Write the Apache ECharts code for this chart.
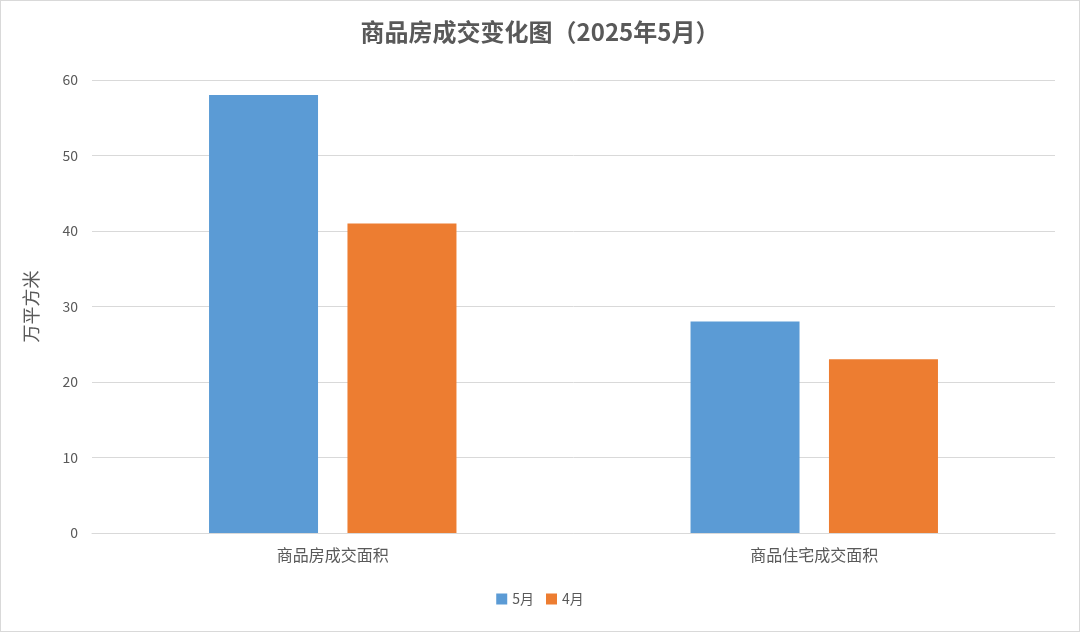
<!DOCTYPE html>
<html>
<head>
<meta charset="utf-8">
<script src="https://cdn.jsdelivr.net/npm/echarts@6/dist/echarts.min.js"></script>
<style>
  html, body { margin: 0; padding: 0; }
  #chart { width: 1078px; height: 630px; border: 1px solid #d9d9d9; }
</style>
</head>
<body>
<div id="chart"></div>
<script>
var categories = ['商品房成交面积', '商品住宅成交面积'];
var may = [58, 28];
var april = [41, 23];
var font = '"Noto Sans CJK SC", "Noto Sans", sans-serif';

var chart = echarts.init(document.getElementById('chart'));
chart.setOption({
  animation: false,
  textStyle: { fontFamily: font },
  title: {
    text: '商品房成交变化图（2025年5月）',
    left: 'center',
    top: 14,
    textStyle: { fontSize: 24, fontWeight: 'bold', color: '#595959', fontFamily: font }
  },
  legend: {
    bottom: 20,
    itemWidth: 11,
    itemHeight: 11,
    icon: 'rect',
    itemGap: 12,
    textStyle: { fontSize: 14, color: '#595959' },
    data: ['5月', '4月']
  },
  grid: { left: 91, right: 24, top: 79, bottom: 98 },
  xAxis: {
    type: 'category',
    data: categories,
    axisLine: { lineStyle: { color: '#d9d9d9' } },
    axisTick: { show: false },
    axisLabel: { fontSize: 16, color: '#595959', margin: 14 }
  },
  yAxis: {
    type: 'value',
    min: 0,
    max: 60,
    interval: 10,
    name: '万平方米',
    nameLocation: 'middle',
    nameGap: 52,
    nameRotate: 90,
    nameTextStyle: { fontSize: 18, color: '#595959' },
    axisLabel: { fontSize: 14, color: '#595959', margin: 14 },
    splitLine: { lineStyle: { color: '#d9d9d9' } }
  },
  series: [{
    name: '5月',
    type: 'bar',
    data: may,
    barWidth: 109,
    barGap: '27%',
    itemStyle: { color: '#5b9bd5' }
  }, {
    name: '4月',
    type: 'bar',
    data: april,
    barWidth: 109,
    itemStyle: { color: '#ed7d31' }
  }]
});
</script>
</body>
</html>
